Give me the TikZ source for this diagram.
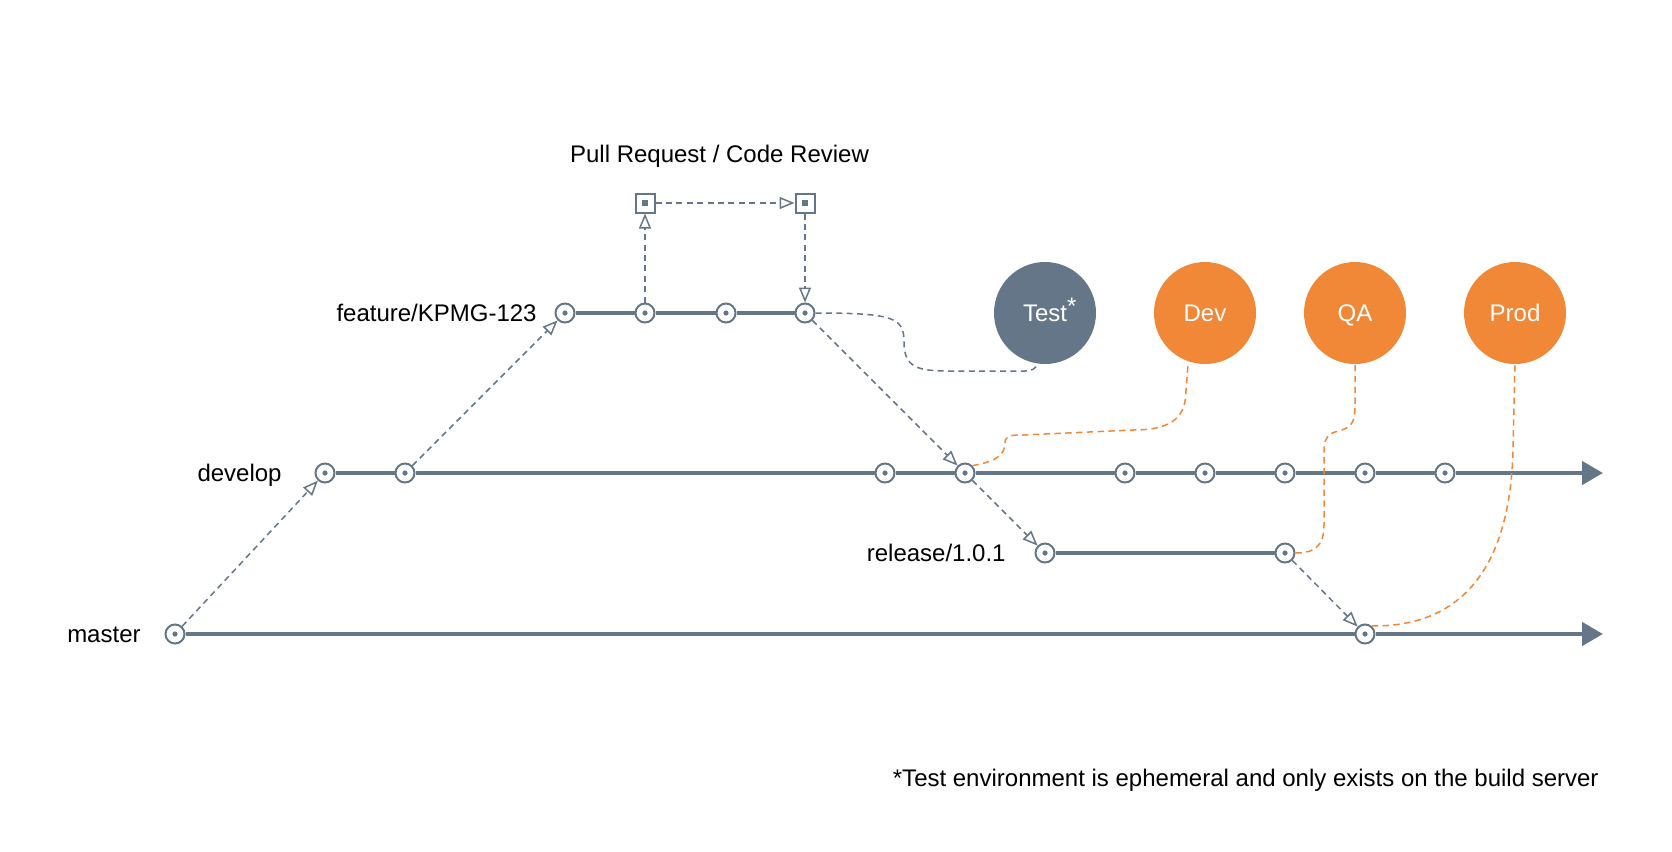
\documentclass[tikz,border=0pt]{standalone}
\usepackage{fontspec}
\setmainfont{Liberation Sans}
\usepackage{tikz}
\usetikzlibrary{arrows.meta}
\usetikzlibrary{positioning}

\definecolor{gitgray}{HTML}{647687}
\definecolor{envorange}{HTML}{F08838}

\tikzset{
  commit/.style={circle, draw=gitgray, fill=white, line width=1pt,
    minimum size=9.5pt, inner sep=0pt,
    path picture={\fill[gitgray] (path picture bounding box.center) circle (1.3pt);}},
  review/.style={rectangle, draw=gitgray, fill=white, line width=1pt,
    minimum size=9.5pt, inner sep=0pt,
    path picture={\fill[gitgray] ([shift={(-1.6pt,-1.6pt)}]path picture bounding box.center) rectangle ++(3.2pt,3.2pt);}},
  env/.style={circle, fill=envorange, text=white, minimum size=51pt, inner sep=0pt,
    text height=8.6pt, text depth=0pt},
  branchname/.style={anchor=base east, inner sep=0pt, yshift=-4.3pt},
  branch/.style={draw=gitgray, line width=2.3pt},
  flow/.style={draw=gitgray, line width=0.75pt, dash pattern=on 3pt off 2.2pt,
    -{Triangle[open, length=7.5pt, width=6pt]}},
  testlink/.style={draw=gitgray, line width=0.75pt, dash pattern=on 3pt off 2.2pt},
  deploy/.style={draw=envorange, line width=0.75pt, dash pattern=on 3.2pt off 2.2pt},
}

\begin{document}
\begin{tikzpicture}[x=5pt, y=-5pt, >={Triangle[length=10.5pt, width=11.5pt]},
    font=\fontsize{12pt}{14pt}\selectfont]%

\useasboundingbox (0,0) rectangle (167.2,85.2);

\foreach \x [count=\i] in {17.5,136.5}
  \node [commit] (master-\i) at (\x,63.4) {};

\foreach \x [count=\i] in {32.5,40.5,88.5,96.5,112.5,120.5,128.5,136.5,144.5}
  \node [commit] (develop-\i) at (\x,47.3) {};

\foreach \x [count=\i] in {56.5,64.5,72.6,80.5}
  \node [commit] (feature-\i) at (\x,31.3) {};

\foreach \x [count=\i] in {104.5,128.5}
  \node [commit] (release-\i) at (\x,55.3) {};

\foreach \x [count=\i] in {64.5,80.5}
  \node [review] (review-\i) at (\x,20.3) {};

\coordinate (master-end) at (160.3,63.4);
\coordinate (develop-end) at (160.3,47.3);

\node [env, fill=gitgray] (env-Test) at (104.5,31.3) {Test\rlap{\raisebox{3.5pt}{*}}};
\foreach \l/\x in {Dev/120.5, QA/135.5, Prod/151.5}
  \node [env] (env-\l) at (\x,31.3) {\l};

\foreach \x/\y/\l [count=\i] in {14.1/63.4/master, 28.2/47.3/develop,
    53.7/31.3/{feature/KPMG-123}, 100.6/55.3/{release/1.0.1}}
  \node [branchname] (label-\i) at (\x,\y) {\l};

\node [anchor=base, yshift=-4.3pt] (review-title) at (71.95,15.36) {Pull Request / Code Review};
\node [branchname] (note) at (159.9,77.75)
  {*Test environment is ephemeral and only exists on the build server};

\draw [branch] (master-1) -- (master-2);
\draw [branch, ->] (master-2) -- (master-end);
\foreach \i [count=\j from 2] in {1,...,8}
  \draw [branch] (develop-\i) -- (develop-\j);
\draw [branch, ->] (develop-9) -- (develop-end);
\foreach \i [count=\j from 2] in {1,...,3}
  \draw [branch] (feature-\i) -- (feature-\j);
\draw [branch] (release-1) -- (release-2);

\foreach \a/\b in {master-1/develop-1, develop-2/feature-1, feature-2/review-1,
    review-1/review-2, review-2/feature-4, feature-4/develop-4,
    develop-4/release-1, release-2/master-2}
  \draw [flow] (\a) -- (\b);

\draw [testlink] (feature-4.east) .. controls (89.5,31.3) and (90.4,31.8) .. (90.4,34.2)
  .. controls (90.4,36.8) and (91.8,37.1) .. (95,37.1) -- (102.5,37.1)
  .. controls (103.3,37.1) and (103.6,36.8) .. (env-Test.-99);

\draw [deploy] (develop-4.45) .. controls (99.5,46.2) and (100.5,45.5) .. (100.5,44.3)
  .. controls (100.5,43.5) and (101.2,43.5) .. (102.3,43.5) -- (113.3,43)
  .. controls (117.5,43) and (118.6,41.5) .. (118.6,39) -- (env-Dev.-109);

\draw [deploy] (release-2.east) .. controls (131.6,55.3) and (132.4,54.5) .. (132.4,52.5)
  -- (132.4,45.2) .. controls (132.4,43.3) and (133.2,43.3) .. (134.2,43)
  .. controls (135.3,42.6) and (135.5,42) .. (135.5,40.5) -- (env-QA.south);

\draw [deploy] (master-2.50) .. controls (146,62.7) and (151,57) .. (151.3,45)
  -- (env-Prod.south);

\end{tikzpicture}
\end{document}
